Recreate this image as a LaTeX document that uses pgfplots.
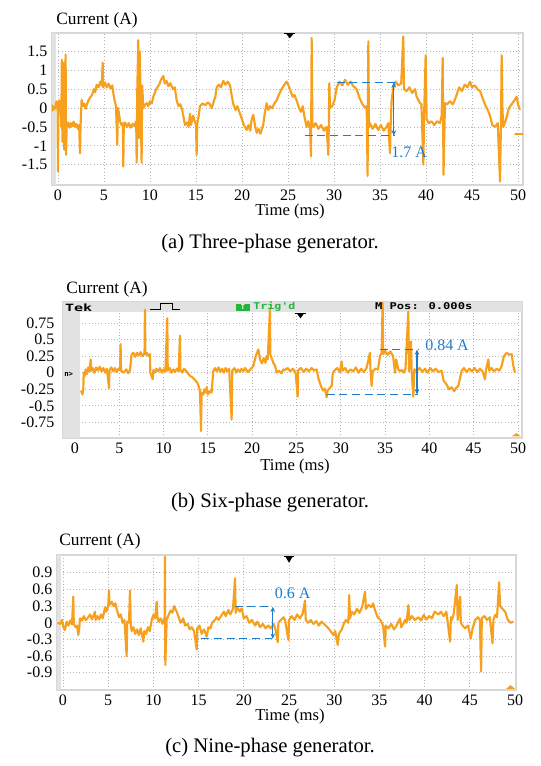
\documentclass[border=0pt]{standalone}
\usepackage{fontspec}
\setmainfont{Liberation Serif}
\newfontfamily\monofont{DejaVu Sans Mono}
\usepackage{pgfplots}
\pgfplotsset{compat=1.18}
\usetikzlibrary{arrows.meta}
\definecolor{wave}{RGB}{247,160,30}
\definecolor{annot}{RGB}{30,125,205}
\definecolor{gridc}{RGB}{180,180,180}
\definecolor{framec}{RGB}{215,215,215}
\definecolor{stripc}{RGB}{226,226,226}
\definecolor{tekgreen}{RGB}{40,180,60}
\pgfplotsset{scopestyle/.style={
  scale only axis, anchor=north west,
  axis line style={framec, line width=0.8pt},
  major tick length=0pt, minor tick length=0pt,
  grid=major, grid style={gridc, dotted, line width=0.6pt},
  ticklabel style={font=\fontsize{12}{14}\selectfont},
  xtick={0,5,10,15,20,25,30,35,40,45,50},
  xticklabels={0,5,10,15,20,25,30,35,40,45,50},
  clip=true},
  wavestyle/.style={wave, line width=1.6pt, line join=round}
}
\tikzset{
  dashann/.style={annot, line width=0.8pt, dash pattern=on 6pt off 3.5pt},
  arrann/.style={annot, line width=0.9pt, {Stealth[length=4pt,width=3.5pt]}-{Stealth[length=4pt,width=3.5pt]}}
}
\begin{document}
\begin{tikzpicture}
\path[use as bounding box] (0,0) rectangle (405pt,-574.5pt);
% ---------------- (a) ----------------
\begin{axis}[scopestyle, at={(39pt,-24.75pt)}, width=353.25pt, height=114pt,
  xmin=-0.65, xmax=50.54, ymin=-2.04, ymax=1.99,
  ytick={-1.5,-1,-0.5,0,0.5,1,1.5}, yticklabels={-1.5,-1,-0.5,0,0.5,1,1.5}]
\fill[stripc] (axis cs:-0.65,-2.04) rectangle (axis cs:-0.25,1.99);
\addplot[wavestyle] coordinates {
(-0.69,0.0)(-0.3,0.02)(-0.15,0.18)(-0.05,0.1)(0.0,-1.68)(0.05,0.12)(0.15,0.2)(0.22,-0.1)(0.3,0.1)(0.36,-0.5)(0.42,1.28)(0.48,-0.9)(0.55,-0.4)(0.62,1.2)(0.68,-1.1)(0.75,-0.35)(0.83,1.42)(0.88,-1.24)(0.94,-0.5)(1.1,-0.38)(1.25,-0.52)(1.4,-0.4)(1.55,-0.48)(1.7,-0.36)(1.85,-0.5)(2.0,-0.42)(2.15,-0.55)(2.3,-0.45)(2.39,-1.2)(2.45,-0.5)(2.57,0.22)(2.7,0.05)(2.85,0.12)(3.0,-0.02)(3.12,0.08)(3.3,0.2)(3.5,0.28)(3.7,0.35)(3.9,0.5)(4.05,0.42)(4.2,0.62)(4.4,0.55)(4.6,0.7)(4.75,0.6)(4.86,1.2)(4.92,0.55)(5.1,0.68)(5.3,0.55)(5.5,0.65)(5.7,0.52)(5.9,0.6)(6.01,0.4)(6.15,0.2)(6.3,0.05)(6.45,-0.97)(6.5,0.0)(6.6,-0.1)(6.74,-0.35)(6.9,-0.45)(7.05,-0.4)(7.1,-1.55)(7.15,-0.5)(7.3,-0.38)(7.5,-0.5)(7.7,-0.4)(7.9,-0.52)(8.1,-0.42)(8.3,-0.48)(8.5,-0.35)(8.55,-1.45)(8.62,0.5)(8.73,1.8)(8.8,-0.8)(8.9,1.5)(9.0,-0.2)(9.09,-1.45)(9.15,0.6)(9.28,0.0)(9.45,0.08)(9.64,0.13)(9.8,0.05)(10.0,0.18)(10.2,0.12)(10.36,0.3)(10.6,0.45)(10.8,0.55)(11.0,0.62)(11.2,0.75)(11.45,0.85)(11.6,0.65)(11.8,0.72)(12.0,0.58)(12.2,0.66)(12.5,0.5)(12.7,0.55)(12.9,0.2)(13.1,0.05)(13.3,0.1)(13.5,-0.05)(13.8,-0.45)(14.0,-0.38)(14.2,-0.5)(14.35,-0.15)(14.45,-0.45)(14.6,-0.3)(14.7,-0.2)(14.85,-0.35)(15.0,-0.45)(15.07,-1.24)(15.15,-0.4)(15.3,-0.2)(15.43,0.05)(15.7,0.12)(16.0,0.08)(16.3,0.15)(16.5,0.1)(16.7,0.0)(16.9,0.15)(17.1,0.3)(17.25,0.55)(17.5,0.62)(17.7,0.55)(17.97,0.72)(18.2,0.62)(18.45,0.7)(18.7,0.6)(18.9,0.3)(19.06,0.1)(19.3,-0.05)(19.5,0.05)(19.78,-0.15)(20.0,-0.3)(20.2,-0.45)(20.5,-0.58)(20.7,-0.45)(20.9,-0.6)(21.05,-0.3)(21.23,-0.18)(21.4,-0.45)(21.6,-0.66)(21.8,-0.55)(22.0,-0.68)(22.3,-0.45)(22.5,-0.1)(22.68,0.13)(22.85,-0.05)(23.04,0.05)(23.3,0.0)(23.5,0.12)(23.76,0.2)(24.0,0.35)(24.3,0.5)(24.6,0.62)(24.85,0.7)(25.05,0.6)(25.2,0.5)(25.5,0.3)(25.7,0.35)(25.94,0.2)(26.2,0.0)(26.4,-0.1)(26.6,0.05)(26.8,-0.25)(27.03,-0.5)(27.2,-0.35)(27.4,-0.55)(27.5,-1.28)(27.57,1.86)(27.65,-0.4)(27.75,-0.5)(28.0,-0.4)(28.3,-0.55)(28.6,-0.45)(28.9,-0.6)(29.2,-0.5)(29.38,-1.24)(29.45,-0.3)(29.49,0.66)(29.56,0.0)(29.8,0.05)(30.05,0.2)(30.29,0.55)(30.6,0.7)(30.9,0.6)(31.2,0.75)(31.5,0.62)(31.8,0.7)(32.1,0.58)(32.46,0.5)(32.8,0.25)(33.1,0.1)(33.4,0.0)(33.55,0.05)(33.65,-1.8)(33.73,1.77)(33.8,-0.5)(33.91,-0.4)(34.2,-0.55)(34.5,-0.42)(34.8,-0.58)(35.1,-0.45)(35.4,-0.6)(35.7,-0.5)(35.9,-0.4)(36.08,-1.2)(36.15,-0.5)(36.26,0.2)(36.45,0.55)(36.7,0.7)(37.0,0.6)(37.3,0.65)(37.53,1.9)(37.6,0.5)(37.9,0.45)(38.2,0.55)(38.5,0.4)(38.8,0.5)(38.98,0.3)(39.3,0.15)(39.5,0.1)(39.71,-1.5)(39.8,-0.1)(39.96,1.4)(40.07,-0.3)(40.3,-0.4)(40.6,-0.35)(40.9,-0.45)(41.2,-0.35)(41.52,-0.4)(41.7,-0.2)(41.81,1.33)(41.9,-1.77)(42.06,0.13)(42.3,0.1)(42.6,0.18)(42.9,0.1)(43.1,0.2)(43.33,0.35)(43.6,0.55)(43.9,0.45)(44.2,0.62)(44.5,0.55)(44.78,0.7)(45.0,0.55)(45.3,0.6)(45.6,0.5)(45.87,0.45)(46.1,0.3)(46.4,0.1)(46.7,-0.05)(46.95,-0.2)(47.2,-0.45)(47.5,-0.5)(47.8,-0.4)(48.04,-1.95)(48.15,-0.3)(48.22,1.4)(48.3,0.0)(48.4,-0.5)(48.7,-0.3)(49.0,0.0)(49.3,0.1)(49.6,0.2)(49.85,0.3)(50.0,0.1)(50.2,-0.05)
};
\draw[dashann] (axis cs:30.3,0.68) -- (axis cs:36.6,0.68);
\draw[dashann] (axis cs:26.8,-0.73) -- (axis cs:36.6,-0.73);
\draw[arrann] (axis cs:36.5,-0.73) -- (axis cs:36.5,0.68);
\node[annot, anchor=west, inner sep=0pt, font=\fontsize{12}{14}\selectfont] at (axis cs:36.2,-1.17) {1.7 A};
\fill[black] (axis cs:24.8,1.97) -- (axis cs:25.6,1.97) -- (axis cs:25.2,1.85) -- cycle;
\draw[black, line width=0.7pt] (axis cs:24.6,1.97) -- (axis cs:25.8,1.97);
\fill[wave] (axis cs:-0.65,0.1) -- (axis cs:-0.1,0) -- (axis cs:-0.65,-0.1) -- cycle;
\draw[wave, line width=1pt, -{Stealth[length=3pt]}] (axis cs:50.5,-0.69) -- (axis cs:49.5,-0.69);
\end{axis}
\node[font=\fontsize{13}{15}\selectfont] at (72.75pt,-15pt) {Current (A)};
\node[font=\fontsize{12.5}{15}\selectfont] at (217.5pt,-158.25pt) {Time (ms)};
\node[font=\fontsize{15.5}{18}\selectfont] at (202.5pt,-183pt) {(a) Three-phase generator.};
% ---------------- (b) ----------------
\begin{axis}[scopestyle, at={(47.25pt,-226.5pt)}, width=344.25pt, height=102pt,
  xmin=-1.35, xmax=50.45, ymin=-0.985, ymax=1.066,
  ytick={-0.75,-0.5,-0.25,0,0.25,0.5,0.75}, yticklabels={-0.75,-0.5,-0.25,0,0.25,0.5,0.75},
  yticklabel style={xshift=-3pt}]
\fill[stripc] (axis cs:-1.35,-0.985) rectangle (axis cs:0.55,1.066);
\fill[stripc] (axis cs:-1.35,0.916) rectangle (axis cs:50.45,1.066);
\addplot[wavestyle] coordinates {
(0.64,-0.3)(0.75,-0.28)(0.85,-0.33)(0.95,-0.22)(0.98,0.0)(1.1,-0.05)(1.2,0.05)(1.35,-0.02)(1.5,0.08)(1.65,0.02)(1.77,0.2)(1.85,0.03)(2.0,0.07)(2.2,0.0)(2.4,0.08)(2.6,0.03)(2.8,0.09)(3.0,0.02)(3.2,0.07)(3.4,0.0)(3.6,0.06)(3.84,-0.23)(3.9,0.04)(4.1,0.08)(4.3,0.02)(4.5,0.07)(4.7,0.01)(4.9,0.06)(5.08,0.04)(5.15,0.43)(5.2,0.03)(5.5,0.0)(5.8,0.05)(6.0,-0.01)(6.21,0.04)(6.4,0.28)(6.6,0.3)(6.8,0.24)(7.0,0.3)(7.2,0.26)(7.4,0.31)(7.6,0.25)(7.85,0.3)(7.9,0.95)(7.95,0.27)(8.1,0.3)(8.3,0.25)(8.47,0.28)(8.5,0.0)(8.65,-0.05)(8.77,-0.1)(8.85,0.04)(9.0,0.0)(9.2,0.06)(9.4,0.02)(9.6,0.07)(9.8,0.0)(10.0,0.05)(10.2,0.01)(10.42,0.82)(10.47,0.03)(10.7,0.07)(10.9,0.0)(11.1,0.05)(11.3,0.01)(11.5,0.06)(11.7,0.02)(11.85,0.56)(11.9,0.04)(12.1,0.0)(12.3,0.06)(12.6,0.02)(12.8,-0.02)(13.0,-0.05)(13.35,-0.08)(13.6,-0.12)(13.8,-0.15)(14.0,-0.22)(14.11,-0.28)(14.22,-0.88)(14.3,-0.3)(14.48,-0.33)(14.6,-0.25)(14.75,-0.3)(14.86,-0.22)(15.0,-0.33)(15.2,-0.28)(15.42,-0.3)(15.61,0.02)(15.8,0.07)(16.0,0.02)(16.2,0.08)(16.4,0.01)(16.6,0.06)(16.8,0.0)(17.0,0.07)(17.2,0.02)(17.4,0.06)(17.68,-0.71)(17.75,0.03)(18.0,0.07)(18.2,0.0)(18.4,0.05)(18.6,0.01)(18.8,0.06)(19.0,0.02)(19.2,0.07)(19.5,0.01)(19.8,0.05)(20.13,0.1)(20.4,0.25)(20.69,0.35)(20.8,0.28)(20.88,0.2)(21.1,0.14)(21.3,0.22)(21.5,0.15)(21.63,0.25)(21.75,0.2)(22.0,0.95)(22.05,0.27)(22.2,0.22)(22.38,0.15)(22.6,0.1)(22.76,0.0)(23.0,0.03)(23.3,-0.01)(23.5,0.05)(23.7,0.04)(24.0,0.07)(24.3,0.02)(24.6,0.06)(24.9,0.0)(25.13,-0.36)(25.2,0.04)(25.5,0.07)(25.8,0.01)(26.1,0.06)(26.4,0.02)(26.7,0.07)(27.0,0.03)(27.27,0.05)(27.5,-0.1)(27.84,-0.23)(28.0,-0.27)(28.2,-0.24)(28.4,-0.37)(28.5,-0.27)(28.7,-0.24)(28.97,-0.2)(29.1,0.0)(29.34,0.04)(29.6,0.07)(29.9,0.01)(30.1,0.17)(30.2,0.03)(30.5,0.07)(30.8,0.0)(31.1,0.05)(31.4,0.02)(31.7,0.08)(32.0,0.0)(32.3,0.06)(32.6,0.01)(32.9,0.07)(33.29,0.3)(33.35,0.03)(33.48,-0.2)(33.6,0.02)(33.9,0.06)(34.2,0.05)(34.42,0.25)(34.61,0.3)(34.72,1.07)(34.78,0.28)(35.0,0.33)(35.3,0.27)(35.6,0.32)(35.9,0.25)(36.12,0.0)(36.25,0.2)(36.49,0.05)(36.7,0.02)(36.87,0.04)(37.1,0.0)(37.3,0.06)(37.62,0.92)(37.7,0.02)(37.92,0.47)(38.0,0.01)(38.18,-0.36)(38.3,0.05)(38.6,0.03)(38.9,0.07)(39.2,0.01)(39.5,0.06)(39.8,0.0)(40.1,0.07)(40.4,0.02)(40.7,0.06)(41.0,0.01)(41.38,0.03)(41.6,-0.12)(41.95,-0.18)(42.2,-0.25)(42.5,-0.22)(42.8,-0.28)(43.0,-0.23)(43.26,-0.2)(43.64,0.03)(43.9,0.07)(44.2,0.01)(44.5,0.06)(44.8,0.02)(45.1,0.07)(45.4,0.01)(45.7,0.06)(46.0,0.02)(46.27,-0.1)(46.4,0.05)(46.65,0.2)(46.75,0.03)(47.0,0.07)(47.3,0.02)(47.6,0.06)(47.9,0.03)(48.15,0.1)(48.4,0.25)(48.72,0.3)(49.0,0.27)(49.28,0.28)(49.45,0.12)(49.66,0.0)
};
\draw[dashann] (axis cs:34.4,0.35) -- (axis cs:38.7,0.35);
\draw[dashann] (axis cs:28.4,-0.33) -- (axis cs:38.7,-0.33);
\draw[arrann] (axis cs:38.6,-0.33) -- (axis cs:38.6,0.35);
\node[annot, anchor=west, inner sep=0pt, font=\fontsize{12}{14}\selectfont] at (axis cs:39.5,0.42) {0.84 A};
\fill[black] (axis cs:25.0,0.9) -- (axis cs:25.9,0.9) -- (axis cs:25.45,0.82) -- cycle;
\draw[black, line width=0.7pt] (axis cs:24.8,0.9) -- (axis cs:26.1,0.9);
\fill[wave] (axis cs:49.3,-0.96) -- (axis cs:50.3,-0.96) -- (axis cs:49.8,-0.91) -- cycle;
\end{axis}
\node[font=\monofont\bfseries\fontsize{7.5}{8}\selectfont, xscale=1.5, anchor=west, inner sep=0pt] at (48.5pt,-230.5pt) {Tek};
\draw[black, line width=0.6pt] (112.5pt,-232pt) -- (120pt,-232pt) -- (120pt,-227.5pt) -- (129pt,-227.5pt) -- (129pt,-232pt) -- (135pt,-232pt);
\fill[tekgreen] (177pt,-228pt) rectangle (187.5pt,-233pt);
\node[white, font=\monofont\bfseries\fontsize{5}{5}\selectfont, inner sep=0pt] at (182.25pt,-230.5pt) {T};
\node[tekgreen, font=\monofont\bfseries\fontsize{7}{8}\selectfont, xscale=1.25, anchor=west, inner sep=0pt] at (189.75pt,-230.3pt) {Trig'd};
\node[font=\monofont\bfseries\fontsize{7}{8}\selectfont, xscale=1.3, anchor=west, inner sep=0pt] at (281pt,-229.5pt) {M Pos: 0.000s};
\node[font=\monofont\bfseries\fontsize{5.5}{6}\selectfont, anchor=west, inner sep=0pt] at (48pt,-281pt) {n>};
\node[font=\fontsize{13}{15}\selectfont] at (80.25pt,-216.75pt) {Current (A)};
\node[font=\fontsize{12.5}{15}\selectfont] at (221.25pt,-349.5pt) {Time (ms)};
\node[font=\fontsize{15.5}{18}\selectfont] at (202.5pt,-377.25pt) {(b) Six-phase generator.};
% ---------------- (c) ----------------
\begin{axis}[scopestyle, at={(42.75pt,-416.25pt)}, width=344.25pt, height=101.25pt,
  xmin=-0.66, xmax=50.1, ymin=-1.21, ymax=1.22,
  ytick={-0.9,-0.6,-0.3,0,0.3,0.6,0.9}, yticklabels={-0.9,-0.6,-0.3,0,0.3,0.6,0.9}]
\fill[stripc] (axis cs:-0.66,-1.21) rectangle (axis cs:-0.25,1.22);
\addplot[wavestyle] coordinates {
(-0.6,0.0)(-0.3,-0.02)(-0.1,0.05)(0.05,-0.08)(0.22,-0.13)(0.4,0.02)(0.6,-0.05)(0.8,0.04)(1.0,-0.03)(1.14,0.47)(1.2,-0.02)(1.4,-0.08)(1.55,-0.05)(1.7,-0.22)(1.8,-0.1)(1.88,0.08)(2.1,0.04)(2.3,0.12)(2.5,0.05)(2.8,0.1)(3.0,0.15)(3.2,0.06)(3.4,0.14)(3.54,0.2)(3.6,0.05)(3.8,0.12)(4.0,0.06)(4.2,0.15)(4.4,0.08)(4.65,0.28)(4.8,0.2)(5.0,0.3)(5.09,0.58)(5.15,0.32)(5.4,0.38)(5.6,0.3)(5.8,0.35)(5.94,0.25)(6.2,0.1)(6.4,0.15)(6.6,0.0)(6.8,0.05)(7.04,-0.6)(7.1,0.02)(7.3,0.0)(7.41,0.58)(7.5,-0.05)(7.6,-0.15)(7.8,-0.08)(8.0,-0.2)(8.2,-0.12)(8.4,-0.22)(8.6,-0.1)(8.89,-0.34)(9.0,-0.15)(9.2,-0.2)(9.4,-0.08)(9.6,-0.15)(9.81,0.05)(10.0,0.14)(10.2,0.08)(10.36,0.38)(10.45,0.1)(10.55,0.02)(10.8,0.08)(11.0,-0.02)(11.25,0.1)(11.28,1.19)(11.32,-0.76)(11.47,0.05)(11.7,0.15)(11.9,0.22)(12.1,0.18)(12.3,0.3)(12.57,0.2)(12.8,0.1)(13.0,0.0)(13.3,0.08)(13.5,-0.05)(13.8,-0.02)(14.0,-0.12)(14.23,-0.08)(14.5,-0.15)(14.79,-0.48)(14.85,-0.1)(15.1,-0.05)(15.34,-0.2)(15.6,-0.12)(15.89,-0.25)(16.08,-0.08)(16.3,-0.1)(16.5,0.0)(16.8,0.05)(17.0,0.1)(17.2,0.05)(17.55,0.14)(17.8,0.2)(18.0,0.12)(18.29,0.23)(18.5,0.15)(18.8,0.25)(19.03,0.8)(19.1,0.18)(19.3,0.28)(19.55,0.2)(19.76,0.26)(20.0,0.08)(20.3,0.12)(20.6,0.0)(20.9,0.05)(21.24,-0.05)(21.5,0.02)(21.8,-0.08)(22.1,-0.02)(22.4,-0.1)(22.71,-0.05)(23.0,-0.1)(23.3,-0.02)(23.5,-0.12)(23.75,-0.35)(23.82,0.0)(24.1,0.05)(24.4,0.1)(24.56,0.05)(24.93,-0.31)(25.0,0.05)(25.3,0.12)(25.6,0.05)(25.9,0.15)(26.2,0.08)(26.5,0.16)(26.77,0.4)(26.85,0.05)(27.1,0.0)(27.4,0.05)(27.7,-0.02)(28.0,0.03)(28.3,-0.05)(28.6,0.02)(29.0,-0.04)(29.35,-0.1)(29.6,-0.15)(29.9,-0.22)(30.1,-0.15)(30.39,-0.4)(30.5,-0.2)(30.83,-0.12)(31.1,0.0)(31.3,0.05)(31.56,0.0)(31.65,0.5)(31.75,0.08)(31.93,0.2)(32.2,0.15)(32.5,0.25)(32.8,0.18)(33.1,0.3)(33.41,0.56)(33.5,0.25)(33.8,0.32)(34.1,0.28)(34.3,0.35)(34.52,0.22)(34.8,0.1)(35.1,0.05)(35.4,-0.05)(35.62,-0.43)(35.7,-0.05)(36.0,-0.1)(36.3,-0.02)(36.6,-0.12)(36.9,-0.05)(37.28,0.08)(37.4,-0.08)(37.6,-0.03)(37.83,0.05)(38.0,0.0)(38.2,0.32)(38.3,0.05)(38.6,0.12)(38.9,0.05)(39.31,0.1)(39.6,0.04)(39.9,0.14)(40.2,0.06)(40.5,0.12)(40.8,0.08)(41.1,0.2)(41.52,0.15)(41.8,0.2)(42.1,0.12)(42.4,0.2)(42.81,-0.34)(42.9,0.1)(43.0,0.05)(43.2,0.15)(43.55,0.68)(43.65,0.05)(43.92,0.47)(44.0,0.0)(44.2,-0.05)(44.47,-0.1)(44.8,-0.05)(45.1,-0.28)(45.3,-0.1)(45.58,0.05)(45.9,0.1)(46.1,0.05)(46.24,-0.88)(46.32,0.08)(46.6,0.12)(46.9,0.05)(47.2,0.1)(47.5,-0.37)(47.6,0.05)(47.79,0.14)(48.0,0.1)(48.23,0.73)(48.35,0.3)(48.6,0.25)(48.9,0.2)(49.2,0.05)(49.5,0.0)(49.82,0.02)
};
\draw[dashann] (axis cs:19.0,0.29) -- (axis cs:23.1,0.29);
\draw[dashann] (axis cs:15.3,-0.29) -- (axis cs:23.1,-0.29);
\draw[arrann] (axis cs:23.2,-0.29) -- (axis cs:23.2,0.29);
\node[annot, anchor=west, inner sep=0pt, font=\fontsize{12}{14}\selectfont] at (axis cs:23.4,0.53) {0.6 A};
\fill[black] (axis cs:24.6,1.19) -- (axis cs:25.4,1.19) -- (axis cs:25.0,1.08) -- cycle;
\draw[black, line width=0.7pt] (axis cs:24.4,1.19) -- (axis cs:25.6,1.19);
\fill[wave] (axis cs:49.0,-1.19) -- (axis cs:50.0,-1.19) -- (axis cs:49.5,-1.12) -- cycle;
\end{axis}
\node[font=\fontsize{13}{15}\selectfont] at (75pt,-405.75pt) {Current (A)};
\node[font=\fontsize{12.5}{15}\selectfont] at (217.5pt,-537pt) {Time (ms)};
\node[font=\fontsize{15.5}{18}\selectfont] at (202.5pt,-561pt) {(c) Nine-phase generator.};
\end{tikzpicture}
\end{document}
